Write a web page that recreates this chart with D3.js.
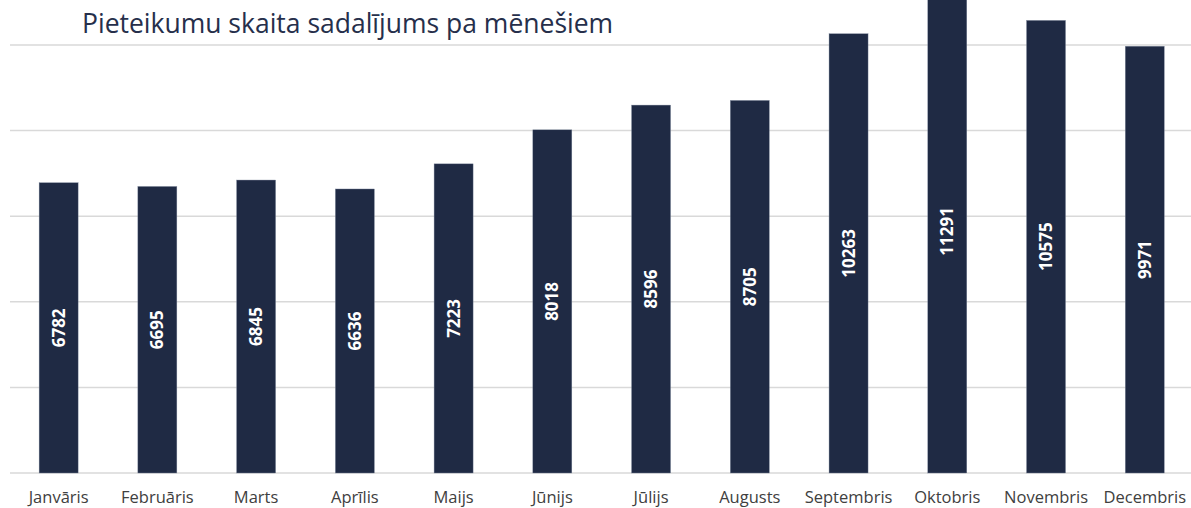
<!DOCTYPE html>
<html>
<head>
<meta charset="utf-8">
<script src="https://cdn.jsdelivr.net/npm/d3@7"></script>
<style>
  html, body { margin: 0; padding: 0; background: #fff; }
  svg { display: block; }
</style>
</head>
<body>
<svg id="chart" width="1191" height="508"></svg>
<script>
var months = ['Janvāris', 'Februāris', 'Marts', 'Aprīlis', 'Maijs', 'Jūnijs',
  'Jūlijs', 'Augusts', 'Septembris', 'Oktobris', 'Novembris', 'Decembris'];
var counts = [6782, 6695, 6845, 6636, 7223, 8018, 8596, 8705, 10263, 11291, 10575, 9971];
var gridTicks = [0, 2000, 4000, 6000, 8000, 10000];
var chartTitle = 'Pieteikumu skaita sadalījums pa mēnešiem';

var barColor = '#1f2a44';
var gridColor = '#d9d9d9';
var fontFamily = '"Open Sans", "Noto Sans", sans-serif';

var svg = d3.select('#chart');

var x = d3.scaleBand()
  .domain(months)
  .range([9.5, 1193.9])
  .paddingInner(0.605)
  .paddingOuter(0.3);

var y = d3.scaleLinear()
  .domain([0, 10000])
  .range([473, 45]);

// gridlines
svg.append('g')
  .selectAll('line')
  .data(gridTicks)
  .enter()
  .append('line')
  .attr('x1', 10)
  .attr('x2', 1191)
  .attr('y1', function (d) { return y(d); })
  .attr('y2', function (d) { return y(d); })
  .attr('stroke', gridColor)
  .attr('stroke-width', 1.5);

// title
svg.append('text')
  .attr('x', 82)
  .attr('y', 33)
  .attr('font-family', fontFamily)
  .attr('font-size', '26.5px')
  .attr('fill', '#262f4b')
  .text(chartTitle);

// bars
svg.append('g')
  .selectAll('rect')
  .data(counts)
  .enter()
  .append('rect')
  .attr('x', function (d, i) { return x(months[i]); })
  .attr('y', function (d) { return y(d); })
  .attr('width', x.bandwidth())
  .attr('height', function (d) { return y(0) - y(d); })
  .attr('fill', barColor)
  .attr('stroke', '#7e889c')
  .attr('stroke-width', 0.4);

// value labels, rotated, centred in the bar
svg.append('g')
  .selectAll('text')
  .data(counts)
  .enter()
  .append('text')
  .attr('transform', function (d, i) {
    var cx = x(months[i]) + x.bandwidth() / 2;
    var cy = (y(d) + y(0)) / 2;
    return 'translate(' + cx + ',' + cy + ') rotate(-90)';
  })
  .attr('text-anchor', 'middle')
  .attr('dy', '0.36em')
  .attr('font-family', fontFamily)
  .attr('font-weight', 'bold')
  .attr('font-size', '17px')
  .attr('fill', '#ffffff')
  .text(function (d) { return d; });

// category axis
var xAxis = d3.axisBottom(x).tickSize(0).tickPadding(0);
var axisG = svg.append('g')
  .attr('transform', 'translate(0,' + y(0) + ')')
  .call(xAxis);
axisG.select('.domain').remove();
axisG.selectAll('text')
  .attr('y', 30)
  .attr('dy', '0')
  .attr('font-family', fontFamily)
  .attr('font-size', '16.5px')
  .attr('fill', '#404040');
</script>
</body>
</html>
